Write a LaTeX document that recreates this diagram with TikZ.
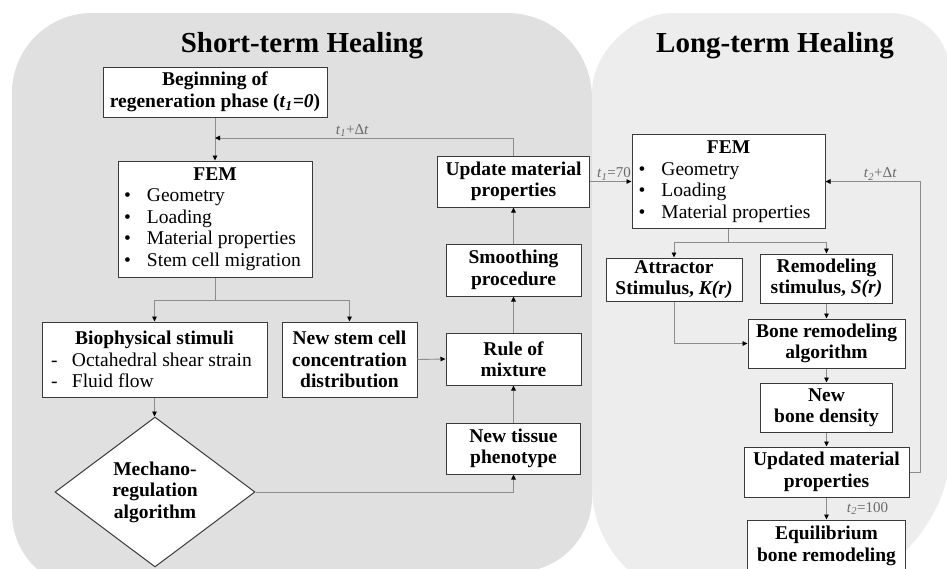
\documentclass[tikz,border=0pt]{standalone}
\usepackage{fontspec}
\setmainfont{Liberation Serif}
\usetikzlibrary{arrows.meta,shapes.geometric}
\definecolor{leftbg}{HTML}{E0E0E0}
\definecolor{rightbg}{HTML}{EDEDED}
\definecolor{connc}{HTML}{8C8C8C}
\definecolor{lblc}{HTML}{6A6A6A}
\definecolor{boxc}{HTML}{3A3A3A}
\newcommand\bulitem[1]{\makebox[23pt][l]{\textbullet}#1\par}
\newcommand\dashitem[1]{\makebox[25pt][l]{\hspace*{4pt}-}#1\par}
\newcommand\tsub[2]{\textit{#1}\textsubscript{\textit{#2}}}
\begin{document}
\begin{tikzpicture}[x=1pt,y=-1pt,
  box/.style={draw=boxc, line width=1pt, fill=white, align=center, inner sep=0pt,
    font=\fontsize{19.5}{21.5}\selectfont\bfseries},
  conn/.style={draw=connc, line width=0.9pt},
  arr/.style={conn, -{Triangle[length=5pt,width=4.5pt,color=black]}},
  ttl/.style={font=\fontsize{29}{32}\selectfont\bfseries, anchor=base, inner sep=0pt},
  tlabel/.style={font=\fontsize{15}{17}\selectfont, text=lblc, inner sep=1pt}
]
\useasboundingbox (0,0) rectangle (947,568);
\clip (0,0) rectangle (947,568);
\fill[white] (0,0) rectangle (947,568);
% panels
\fill[leftbg] (12,93) .. controls (12,48.8) and (47.8,13) .. (92,13)
  -- (507,13) .. controls (553.9,13) and (592,51.1) .. (592,98)
  -- (592,497) .. controls (592,538.4) and (558.4,572) .. (517,572)
  -- (87,588) .. controls (45.6,588) and (12,554.4) .. (12,513) -- cycle;
\fill[rightbg] (592,93) .. controls (592,48.8) and (636.8,13) .. (672,13)
  -- (890,13) .. controls (923.1,13) and (950,39.9) .. (950,73)
  -- (950,450) .. controls (950,532.8) and (867.2,600) .. (800,600)
  -- (705,600) .. controls (642.6,600) and (592,549.4) .. (592,487) -- cycle;
% titles
\node[ttl] (tshort) at (302,52) {Short-term Healing};
\node[ttl] (tlong) at (775,52) {Long-term Healing};
% short-term boxes
\node[box, minimum width=224pt, minimum height=50pt] (begin) at (215,92)
  {Beginning of\\regeneration phase (\tsub{t}{1}\textit{=0})};
\node[box, minimum width=194pt, minimum height=116pt] (fem1) at (215,219)
  {\begin{minipage}{182pt}\centering FEM\par\raggedright\mdseries
   \bulitem{Geometry}\bulitem{Loading}\bulitem{Material properties}\bulitem{Stem cell migration}\end{minipage}};
\node[box, minimum width=225pt, minimum height=75pt] (bio) at (154.5,359.5)
  {\begin{minipage}{215pt}\centering Biophysical stimuli\par\raggedright\mdseries
   \dashitem{Octahedral shear strain}\dashitem{Fluid flow}\end{minipage}};
\node[box, minimum width=135pt, minimum height=75pt] (newstem) at (349.5,359.5)
  {New stem cell\\concentration\\distribution};
\node[box, shape=diamond, aspect=1.333, minimum width=200pt, minimum height=150pt] (dia) at (155,492)
  {Mechano-\\regulation\\algorithm};
\node[box, minimum width=134pt, minimum height=51pt] (tissue) at (513.5,448.5)
  {New tissue\\phenotype};
\node[box, minimum width=135pt, minimum height=52pt] (rule) at (513.5,359)
  {Rule of\\mixture};
\node[box, minimum width=135pt, minimum height=52pt] (smooth) at (513.5,270)
  {Smoothing\\procedure};
\node[box, minimum width=152pt, minimum height=51pt] (upd) at (513.5,181.5)
  {Update material\\properties};
% long-term boxes
\node[box, minimum width=193pt, minimum height=94pt] (fem2) at (728.5,181.5)
  {\begin{minipage}{182pt}\centering FEM\par\raggedright\mdseries
   \hspace*{1pt}\bulitem{Geometry}\hspace*{1pt}\bulitem{Loading}\hspace*{1pt}\bulitem{Material properties}\end{minipage}};
\node[box, minimum width=136pt, minimum height=43pt] (attr) at (674,279.5)
  {Attractor\\Stimulus, \textit{K(r)}};
\node[box, minimum width=132pt, minimum height=49pt] (remod) at (826.5,278.5)
  {Remodeling\\stimulus, \textit{S(r)}};
\node[box, minimum width=157pt, minimum height=49pt] (bone) at (826.5,343.5)
  {Bone remodeling\\algorithm};
\node[box, minimum width=132pt, minimum height=49pt] (newbone) at (826.5,407.5)
  {New\\bone density};
\node[box, minimum width=165pt, minimum height=50pt] (updated) at (826.5,472)
  {Updated material\\properties};
\node[box, minimum width=158pt, minimum height=52pt] (equil) at (826.5,546)
  {Equilibrium\\bone remodeling};
% connectors short-term
\coordinate (j1) at (215,138);
\coordinate (s1) at (215,300);
\draw[arr] (begin.south) -- (fem1.north);
\draw[arr] (upd.north) |- node[tlabel, above, pos=0.77] {\tsub{t}{1}+Δ\textit{t}} (j1);
\draw[conn] (fem1.south) -- (s1);
\draw[arr] (s1) -| (bio.north);
\draw[arr] (s1) -| (newstem.north);
\draw[arr] (bio.south) -- (bio.south |- dia.north);
\draw[arr] (newstem.east) -- (rule.west);
\draw[arr] (dia.east) -| (tissue.south);
\draw[arr] (tissue.north) -- (rule.south);
\draw[arr] (rule.north) -- (smooth.south);
\draw[arr] (smooth.north) -- (upd.south);
\draw[arr] (upd.east) -- node[tlabel, above, pos=0.58] {\tsub{t}{1}=70} (fem2.west);
% connectors long-term
\coordinate (s2) at (728.5,242);
\coordinate (c2) at (920,181.5);
\draw[conn] (fem2.south) -- (s2);
\draw[arr] (s2) -| (attr.north);
\draw[arr] (s2) -| (remod.north);
\draw[arr] (attr.south) |- (bone.west);
\draw[arr] (remod.south) -- (bone.north);
\draw[arr] (bone.south) -- (newbone.north);
\draw[arr] (newbone.south) -- (updated.north);
\draw[arr] (updated.south) -- node[tlabel, right=19pt] {\tsub{t}{2}=100} (equil.north);
\draw[arr] (updated.east) -| (c2) -- node[tlabel, above, pos=0.42] {\tsub{t}{2}+Δ\textit{t}} (fem2.east);
\end{tikzpicture}
\end{document}
